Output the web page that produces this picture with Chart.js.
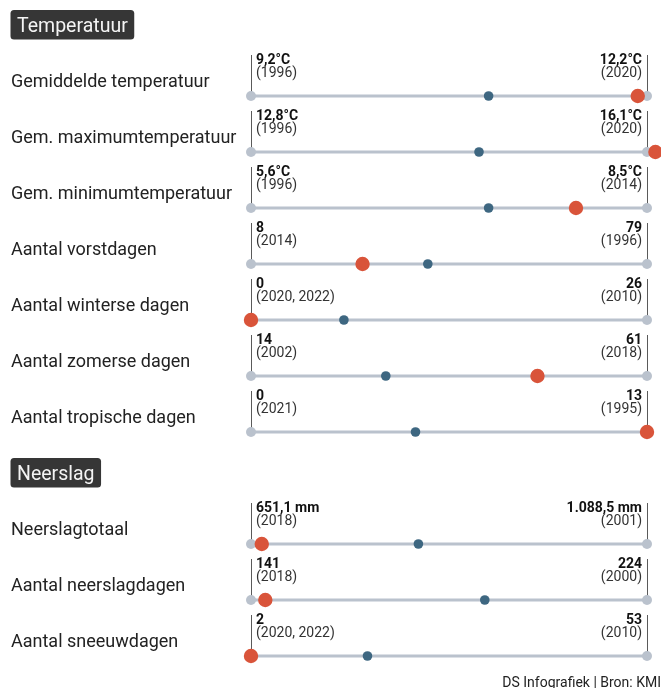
<!DOCTYPE html>
<html>
<head>
<meta charset="utf-8">
<script src="https://cdn.jsdelivr.net/npm/chart.js@4.4.0/dist/chart.umd.min.js"></script>
<style>
  html, body { margin: 0; padding: 0; background: #fff; }
  #wrap { width: 661px; height: 688px; position: relative; }
</style>
</head>
<body>
<div id="wrap"><canvas id="c" width="661" height="688"></canvas></div>
<script>
// ---- data ----
const rowLabels = [
  'Gemiddelde temperatuur', 'Gem. maximumtemperatuur', 'Gem. minimumtemperatuur',
  'Aantal vorstdagen', 'Aantal winterse dagen', 'Aantal zomerse dagen', 'Aantal tropische dagen',
  'Neerslagtotaal', 'Aantal neerslagdagen', 'Aantal sneeuwdagen'
];
const minValues = [9.2, 12.8, 5.6, 8, 0, 14, 0, 651.1, 141, 2];
const maxValues = [12.2, 16.1, 8.5, 79, 26, 61, 13, 1088.5, 224, 53];
const minLabels = ['9,2°C', '12,8°C', '5,6°C', '8', '0', '14', '0', '651,1 mm', '141', '2'];
const maxLabels = ['12,2°C', '16,1°C', '8,5°C', '79', '26', '61', '13', '1.088,5 mm', '224', '53'];
const minYears = ['1996', '1996', '1996', '2014', '2020, 2022', '2002', '2021', '2018', '2018', '2020, 2022'];
const maxYears = ['2020', '2020', '2014', '1996', '2010', '2018', '1995', '2001', '2000', '2010'];
const avgValues = [11.0, 14.7, 7.34, 39.7, 6.1, 30, 5.4, 836, 190, 17];
const currentValues = [12.13, 16.17, 7.98, 28, 0, 48, 13, 663, 144, 2];
const rowSlots = [0, 1, 2, 3, 4, 5, 6, 8, 9, 10];
const sectionTitles = ['Temperatuur', 'Neerslag'];
const sectionSlots = [-1, 7];
const sourceText = 'DS Infografiek | Bron: KMI';

// ---- style ----
const FONT = 'Roboto, "Liberation Sans", sans-serif';
const GREY = '#bac2cd';
const TEAL = '#3e6781';
const ORANGE = '#d9543a';
const TICK = '#5a5a5a';
const TEXT = '#222222';

const datasets = [];
const scales = {
  y: { type: 'linear', reverse: true, min: -1, max: 10, display: false }
};
rowLabels.forEach((lab, i) => {
  const xid = 'x' + i;
  scales[xid] = { type: 'linear', axis: 'x', position: 'bottom', min: minValues[i], max: maxValues[i], display: false };
  datasets.push({
    type: 'scatter', showLine: true, xAxisID: xid, order: 3, clip: false,
    data: [{ x: minValues[i], y: rowSlots[i] }, { x: maxValues[i], y: rowSlots[i] }],
    borderColor: GREY, borderWidth: 3, pointRadius: 5, pointBackgroundColor: GREY,
    pointBorderWidth: 0, pointHoverRadius: 5
  });
  datasets.push({
    type: 'scatter', xAxisID: xid, order: 2, clip: false,
    data: [{ x: avgValues[i], y: rowSlots[i] }],
    pointRadius: 4.8, pointBackgroundColor: TEAL, pointBorderWidth: 0, pointHoverRadius: 4.8
  });
  datasets.push({
    type: 'scatter', xAxisID: xid, order: 1, clip: false,
    data: [{ x: currentValues[i], y: rowSlots[i] }],
    pointRadius: 5.2, pointBackgroundColor: ORANGE, pointBorderColor: ORANGE,
    pointBorderWidth: 4, pointHoverRadius: 5.2
  });
});

function roundRect(ctx, x, y, w, h, r) {
  ctx.beginPath();
  ctx.moveTo(x + r, y);
  ctx.lineTo(x + w - r, y);
  ctx.quadraticCurveTo(x + w, y, x + w, y + r);
  ctx.lineTo(x + w, y + h - r);
  ctx.quadraticCurveTo(x + w, y + h, x + w - r, y + h);
  ctx.lineTo(x + r, y + h);
  ctx.quadraticCurveTo(x, y + h, x, y + h - r);
  ctx.lineTo(x, y + r);
  ctx.quadraticCurveTo(x, y, x + r, y);
  ctx.closePath();
}

const decor = {
  id: 'decor',
  beforeDatasetsDraw(chart) {
    const ctx = chart.ctx;
    const ys = chart.scales.y;
    ctx.save();
    ctx.strokeStyle = TICK;
    ctx.lineWidth = 1;
    rowLabels.forEach((lab, i) => {
      const xs = chart.scales['x' + i];
      const y = ys.getPixelForValue(rowSlots[i]);
      [minValues[i], maxValues[i]].forEach(v => {
        const x = Math.round(xs.getPixelForValue(v)) + 0.5;
        ctx.beginPath();
        ctx.moveTo(x, y - 41);
        ctx.lineTo(x, y);
        ctx.stroke();
      });
    });
    ctx.restore();
  },
  afterDraw(chart) {
    const ctx = chart.ctx;
    const ys = chart.scales.y;
    ctx.save();
    // section headers
    sectionTitles.forEach((t, k) => {
      const cy = ys.getPixelForValue(sectionSlots[k]) - 15;
      ctx.font = '19.5px ' + FONT;
      const w = ctx.measureText(t).width;
      ctx.fillStyle = '#363636';
      roundRect(ctx, 10.5, cy - 15, w + 13, 29.5, 3.5);
      ctx.fill();
      ctx.fillStyle = '#f4f4f4';
      ctx.textBaseline = 'alphabetic';
      ctx.textAlign = 'left';
      ctx.fillText(t, 17, cy + 7);
    });
    // rows
    rowLabels.forEach((lab, i) => {
      const xs = chart.scales['x' + i];
      const y = ys.getPixelForValue(rowSlots[i]);
      const xl = xs.getPixelForValue(minValues[i]);
      const xr = xs.getPixelForValue(maxValues[i]);
      ctx.fillStyle = TEXT;
      ctx.textBaseline = 'alphabetic';
      ctx.textAlign = 'left';
      ctx.font = '18px ' + FONT;
      ctx.fillText(lab, 11, y - 9);
      ctx.font = 'bold 14px ' + FONT;
      ctx.fillStyle = '#111';
      ctx.fillText(minLabels[i], xl + 5, y - 32.5);
      ctx.textAlign = 'right';
      ctx.fillText(maxLabels[i], xr - 5, y - 32.5);
      ctx.font = '14px ' + FONT;
      ctx.fillStyle = '#333';
      ctx.textAlign = 'left';
      ctx.fillText('(' + minYears[i] + ')', xl + 5, y - 19);
      ctx.textAlign = 'right';
      ctx.fillText('(' + maxYears[i] + ')', xr - 5, y - 19);
    });
    // source
    ctx.font = '14px ' + FONT;
    ctx.fillStyle = TEXT;
    ctx.textAlign = 'right';
    ctx.textBaseline = 'alphabetic';
    ctx.fillText(sourceText, 661, 686.5);
    ctx.restore();
  }
};

new Chart(document.getElementById('c'), {
  type: 'scatter',
  data: { datasets },
  options: {
    responsive: false,
    animation: false,
    events: [],
    layout: { padding: { left: 251, right: 14, top: 40, bottom: 32 } },
    scales,
    plugins: { legend: { display: false }, tooltip: { enabled: false } }
  },
  plugins: [decor]
});
</script>
</body>
</html>
